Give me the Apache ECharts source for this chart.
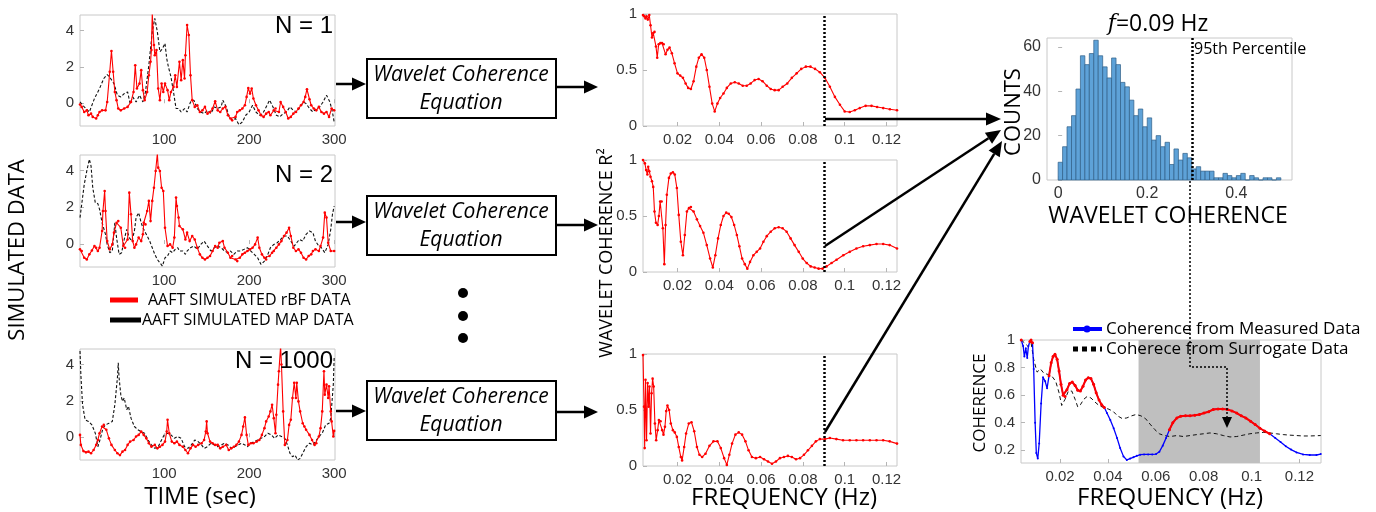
<!DOCTYPE html>
<html>
<head>
<meta charset="utf-8">
<script src="https://cdn.jsdelivr.net/npm/echarts@6/dist/echarts.min.js"></script>
<style>
  html, body { margin: 0; padding: 0; background: #fff; }
  #main { width: 1376px; height: 512px; }
</style>
</head>
<body>
<div id="main"></div>
<script>
// ---- simulated time series (time in s, value) ----
var rbf1 = [[1,-0.07],[3,-0.2],[6,-0.48],[9,-0.39],[11,-0.66],[14,-0.57],[16,-0.75],[20,-0.84],[22,-0.66],[24,-0.48],[27,-0.39],[31,-0.39],[33,0.07],[36,1.73],[38,2.87],[40,1.73],[42,0.62],[44,0.17],[46,-0.29],[49,-0.39],[53,-0.29],[57,-0.2],[61,0.07],[64,0.62],[66,2.09],[68,0.81],[71,1.08],[73,1.82],[75,0.72],[77,0.17],[80,0.62],[82,1.54],[84,2.28],[85,2.92],[86,4.94],[88,3.2],[89,2.64],[91,2.92],[93,0.81],[95,0.17],[97,1.08],[99,0.62],[101,1.08],[104,0.72],[106,0.17],[108,0.62],[111,0.9],[113,1.54],[115,0.9],[118,2.28],[120,1.27],[122,2.37],[124,1.36],[125,2.64],[127,4.3],[129,3.75],[131,1.54],[133,0.17],[136,-0.2],[139,-0.11],[142,-0.48],[145,-0.39],[148,-0.2],[151,-0.57],[154,-0.48],[157,-0.29],[160,0.11],[163,-0.39],[166,-0.48],[169,-0.29],[172,-0.2],[175,-0.66],[178,-0.84],[180,-0.94],[184,-0.75],[186,-0.48],[189,-0.39],[192,-0.29],[195,-0.11],[197,0.35],[199,0.84],[201,0.53],[203,0.81],[205,0.26],[208,-0.11],[211,-0.39],[214,-0.66],[217,-0.75],[220,-0.57],[223,-0.48],[225,-0.66],[229,-0.39],[231,-0.29],[235,-0.48],[237,0.07],[240,-0.2],[243,-0.48],[246,-0.84],[249,-0.75],[252,-0.57],[255,-0.48],[258,-0.29],[261,-0.11],[264,0.07],[266,0.35],[268,0.77],[271,0.22],[273,-0.11],[276,-0.29],[279,-0.39],[282,-0.2],[285,-0.48],[288,-0.57],[291,-0.48],[294,-0.75],[297,-0.29],[300,-0.39]];
var map1 = [[1,0.07],[6,-0.2],[12,-0.48],[18,0.26],[24,0.81],[29,1.36],[33,1.58],[37,1.36],[41,1.08],[45,0.44],[49,0.35],[53,0.53],[57,0.62],[60,-0.02],[63,0.35],[67,0.07],[71,0.44],[75,0.07],[78,0.62],[82,2.09],[86,3.93],[89,4.66],[92,3.93],[95,2.83],[98,3.0],[101,3.29],[103,2.46],[105,2.0],[108,1.45],[111,0.62],[114,-0.29],[117,-0.29],[120,-0.48],[124,-0.29],[127,-0.48],[131,0.07],[135,0.17],[139,-0.29],[143,-0.48],[147,-0.57],[151,-0.39],[155,-0.57],[159,-0.2],[163,-0.29],[167,-0.2],[169,0.17],[173,-0.2],[176,-0.66],[180,-0.94],[184,-0.84],[188,-1.18],[192,-1.03],[196,-0.66],[200,-0.48],[204,-0.11],[208,-0.48],[212,-0.66],[216,-0.57],[220,-0.2],[224,0.17],[228,-0.2],[232,-0.66],[236,-0.75],[240,-0.57],[244,-0.48],[248,-0.2],[252,-0.39],[256,-0.48],[260,-0.2],[264,0.07],[267,-0.02],[271,-0.29],[275,-0.48],[279,-0.29],[283,-0.2],[287,0.07],[291,0.44],[295,0.07],[298,-0.48],[300,-1.03]];
var rbf2 = [[1,-0.29],[3,-0.38],[6,-0.75],[9,-0.84],[12,-0.56],[15,-0.35],[18,-0.11],[20,-0.2],[22,-0.38],[24,-0.2],[27,0.71],[28,1.8],[30,2.89],[31,1.8],[33,0.16],[36,-0.29],[39,-0.02],[41,0.62],[44,1.16],[46,1.25],[49,0.89],[52,-0.11],[54,-0.2],[57,0.25],[59,2.8],[61,1.62],[63,0.16],[65,-0.2],[67,-0.02],[70,0.35],[73,0.16],[75,0.53],[76,1.16],[78,1.07],[80,1.8],[82,2.35],[84,1.25],[86,2.35],[88,3.07],[90,3.98],[92,4.93],[93,4.16],[95,3.98],[97,3.07],[99,2.89],[101,0.89],[104,-0.11],[107,-0.02],[110,-0.2],[112,0.35],[114,2.53],[115,2.07],[117,1.44],[118,0.98],[122,0.8],[125,0.25],[127,0.62],[130,0.16],[133,0.44],[136,0.25],[139,-0.2],[142,-0.56],[145,-0.75],[148,-0.84],[151,-0.75],[154,-0.65],[157,-0.38],[160,-0.11],[163,-0.2],[165,0.07],[169,0.16],[171,-0.2],[175,-0.47],[178,-0.75],[180,-0.65],[184,-0.84],[186,-0.93],[189,-0.75],[192,-0.56],[195,-0.47],[198,-0.38],[201,-0.29],[204,-0.2],[207,-0.02],[210,0.35],[212,-0.2],[215,-0.56],[218,-0.75],[220,-0.84],[224,-0.65],[227,-0.47],[229,-0.38],[232,-0.2],[235,-0.02],[238,0.16],[241,0.44],[244,0.62],[247,0.89],[249,0.44],[252,-0.2],[255,-0.38],[258,-0.29],[261,-0.47],[264,-0.75],[267,-0.84],[270,-0.65],[273,-0.56],[275,-0.38],[278,-0.29],[282,-0.38],[284,-0.11],[287,0.35],[289,1.71],[291,1.44],[293,0.07],[296,-0.38],[300,-0.38]];
var map2 = [[1,1.44],[3,2.16],[6,3.25],[9,3.98],[12,4.62],[14,4.25],[16,3.07],[19,2.25],[22,2.2],[24,1.89],[27,1.16],[31,0.53],[33,-0.02],[36,-0.47],[39,-0.38],[42,1.16],[44,0.35],[47,-0.56],[50,-0.47],[53,0.25],[56,0.8],[59,0.35],[62,0.16],[65,0.71],[67,1.44],[70,1.71],[73,1.16],[75,0.89],[78,0.62],[80,0.44],[83,0.16],[86,-0.2],[89,-0.56],[92,-0.84],[95,-1.02],[98,-1.2],[101,-0.75],[104,-0.65],[107,-0.38],[110,-0.47],[113,-0.29],[116,-0.2],[118,-0.38],[122,-0.38],[125,-0.56],[127,-0.38],[131,-0.2],[135,-0.11],[139,-0.29],[143,-0.02],[147,0.16],[151,-0.11],[155,-0.38],[159,-0.2],[163,-0.11],[167,-0.2],[171,-0.38],[175,-0.47],[178,-0.38],[182,-0.56],[186,-0.38],[190,-0.38],[194,-0.29],[198,-0.2],[202,-0.38],[206,-0.56],[210,-0.75],[214,-1.11],[218,-0.93],[222,-0.56],[225,-0.2],[229,-0.02],[233,0.07],[237,0.25],[241,0.44],[245,0.44],[249,0.16],[253,-0.11],[256,0.07],[259,0.25],[263,0.16],[267,0.53],[271,0.71],[275,0.62],[278,0.16],[282,-0.11],[285,-0.2],[289,-0.47],[293,-0.02],[296,0.8],[298,1.62],[300,2.07]];
var rbf3 = [[1,0.13],[2,-0.42],[5,-0.76],[8,-0.83],[11,-0.79],[14,-0.88],[17,-0.7],[20,-0.42],[22,-0.15],[24,0.22],[27,0.59],[29,0.68],[32,0.41],[35,-0.06],[38,-0.42],[42,-0.7],[45,-0.88],[48,-0.98],[51,-0.79],[54,-0.7],[57,-0.42],[60,-0.24],[64,-0.15],[67,0.04],[70,0.13],[73,0.31],[76,0.13],[79,-0.06],[82,-0.33],[85,-0.52],[89,-0.42],[92,-0.61],[95,-0.52],[98,-0.42],[101,-0.24],[103,0.31],[104,0.96],[106,0.22],[109,-0.24],[112,-0.33],[115,-0.24],[118,-0.42],[122,-0.52],[125,-0.7],[128,-0.88],[131,-0.61],[134,-0.42],[137,-0.52],[140,-0.42],[144,-0.33],[147,-0.15],[149,0.31],[150,0.87],[151,0.22],[154,-0.24],[157,-0.33],[160,-0.42],[163,-0.42],[166,-0.61],[169,-0.52],[173,-0.42],[176,-0.7],[179,-0.61],[182,-0.52],[185,-0.42],[188,-0.24],[191,0.13],[193,0.59],[195,1.09],[197,0.13],[199,-0.42],[202,-0.33],[205,-0.33],[209,-0.24],[212,-0.15],[215,0.13],[218,0.5],[220,0.87],[223,1.14],[225,1.42],[227,1.79],[229,1.05],[231,0.22],[232,1.24],[234,2.89],[235,3.63],[237,5.0],[238,4.0],[240,1.42],[242,-0.42],[245,-0.15],[247,0.68],[249,0.96],[251,2.16],[253,2.99],[255,2.16],[256,2.99],[258,1.97],[260,1.42],[263,0.77],[265,0.59],[267,0.41],[271,0.13],[274,-0.15],[277,-0.42],[279,-0.33],[282,0.04],[284,0.5],[286,1.42],[288,3.63],[289,2.34],[291,2.89],[293,2.16],[294,2.8],[296,1.42],[297,0.87],[299,0.04],[300,0.35]];
var map3 = [[1,4.74],[2,3.45],[4,1.79],[7,0.96],[11,0.87],[15,0.68],[19,0.22],[22,-0.52],[25,-0.06],[28,0.5],[31,0.68],[35,0.77],[39,0.87],[42,1.79],[45,3.26],[46,4.09],[47,3.26],[49,2.34],[51,1.97],[53,2.16],[56,1.51],[58,1.7],[61,1.05],[65,0.59],[69,0.41],[73,0.31],[77,0.22],[81,-0.15],[85,-0.42],[89,-0.61],[93,-0.52],[96,-0.24],[100,0.13],[104,0.22],[108,0.13],[112,-0.06],[116,0.04],[120,-0.06],[124,-0.52],[128,-0.61],[132,-0.42],[136,-0.15],[140,-0.24],[144,-0.42],[147,-0.61],[151,-0.52],[155,-0.33],[159,-0.42],[163,-0.52],[167,-0.42],[171,-0.33],[175,-0.42],[179,-0.61],[183,-0.52],[187,-0.42],[191,-0.33],[195,-0.42],[198,-0.52],[202,-0.33],[206,-0.24],[210,-0.15],[214,-0.06],[218,0.04],[222,0.22],[226,0.13],[230,-0.06],[234,0.13],[238,0.04],[242,-0.06],[245,-0.42],[248,-0.88],[251,-1.07],[254,-0.98],[257,-1.25],[260,-1.16],[264,-0.79],[267,-0.52],[271,-0.33],[275,-0.42],[278,-0.24],[282,0.04],[286,0.22],[290,0.68],[294,0.77],[296,1.05],[299,2.89],[300,4.37]];

// ---- wavelet coherence vs frequency (Hz, R^2) ----
var cohA = [[0.0035,0.99],[0.0041,0.98],[0.0047,0.96],[0.0052,0.98],[0.0058,0.95],[0.0065,0.99],[0.0071,0.9],[0.0078,0.79],[0.0084,0.83],[0.009,0.84],[0.0097,0.71],[0.0103,0.61],[0.011,0.73],[0.0118,0.74],[0.0126,0.74],[0.0134,0.73],[0.0143,0.64],[0.0152,0.68],[0.0162,0.7],[0.0173,0.65],[0.0186,0.56],[0.02,0.47],[0.0213,0.45],[0.0226,0.43],[0.0239,0.38],[0.0251,0.34],[0.0264,0.33],[0.0277,0.4],[0.029,0.53],[0.0302,0.61],[0.0315,0.64],[0.0328,0.61],[0.034,0.5],[0.0353,0.35],[0.0366,0.2],[0.0378,0.13],[0.0391,0.2],[0.0404,0.25],[0.042,0.29],[0.0436,0.34],[0.0455,0.38],[0.0474,0.39],[0.0493,0.38],[0.0512,0.36],[0.0531,0.36],[0.055,0.38],[0.0569,0.41],[0.0588,0.42],[0.0607,0.4],[0.0627,0.36],[0.0646,0.33],[0.0665,0.32],[0.0684,0.32],[0.0703,0.35],[0.0725,0.38],[0.0747,0.43],[0.077,0.47],[0.0792,0.51],[0.0814,0.53],[0.0836,0.53],[0.0858,0.51],[0.0881,0.48],[0.0905,0.43],[0.0929,0.35],[0.0953,0.26],[0.0977,0.19],[0.1,0.13],[0.1024,0.125],[0.1048,0.14],[0.1072,0.16],[0.11,0.18],[0.1128,0.18],[0.1155,0.17],[0.1184,0.16],[0.1216,0.15],[0.125,0.14]];
var cohB = [[0.0035,1.0],[0.0044,0.97],[0.005,0.91],[0.0056,0.87],[0.006,0.94],[0.0065,0.9],[0.0071,0.85],[0.0078,0.81],[0.0084,0.76],[0.009,0.54],[0.0097,0.44],[0.0105,0.42],[0.0111,0.5],[0.0117,0.63],[0.0124,0.63],[0.013,0.39],[0.0137,0.07],[0.0143,0.42],[0.0149,0.69],[0.0159,0.84],[0.0168,0.88],[0.0178,0.89],[0.0187,0.87],[0.0197,0.75],[0.0206,0.51],[0.0216,0.27],[0.0226,0.15],[0.0235,0.33],[0.0245,0.54],[0.0255,0.57],[0.0264,0.58],[0.0277,0.54],[0.0293,0.47],[0.0308,0.41],[0.0324,0.35],[0.034,0.24],[0.0356,0.12],[0.0369,0.04],[0.0381,0.15],[0.0394,0.3],[0.0407,0.42],[0.042,0.5],[0.0433,0.53],[0.0445,0.52],[0.0458,0.49],[0.0471,0.42],[0.0484,0.33],[0.0496,0.23],[0.0509,0.12],[0.0522,0.07],[0.0534,0.03],[0.0547,0.09],[0.0563,0.15],[0.0579,0.18],[0.0595,0.21],[0.0611,0.27],[0.0627,0.32],[0.0646,0.36],[0.0665,0.39],[0.0684,0.4],[0.0703,0.39],[0.0722,0.36],[0.0741,0.3],[0.076,0.24],[0.078,0.18],[0.0799,0.12],[0.0818,0.08],[0.0837,0.05],[0.0856,0.04],[0.0875,0.03],[0.0894,0.03],[0.0913,0.05],[0.0937,0.08],[0.0961,0.11],[0.0993,0.15],[0.1024,0.18],[0.1056,0.21],[0.1088,0.23],[0.112,0.24],[0.1152,0.25],[0.1184,0.25],[0.1215,0.24],[0.125,0.21]];
var cohC = [[0.0035,0.99],[0.004,0.53],[0.0043,0.16],[0.0047,0.77],[0.0052,0.23],[0.0057,0.74],[0.0062,0.53],[0.0066,0.71],[0.0071,0.29],[0.0076,0.65],[0.0081,0.78],[0.0086,0.71],[0.0092,0.38],[0.0098,0.23],[0.0105,0.32],[0.0111,0.41],[0.0119,0.4],[0.0127,0.32],[0.0133,0.28],[0.014,0.35],[0.0146,0.49],[0.0152,0.54],[0.016,0.5],[0.0168,0.38],[0.0178,0.32],[0.0187,0.3],[0.0197,0.26],[0.0206,0.17],[0.0216,0.08],[0.0222,0.05],[0.0232,0.17],[0.0241,0.29],[0.0254,0.38],[0.0267,0.39],[0.028,0.31],[0.0293,0.17],[0.0305,0.1],[0.0318,0.08],[0.0334,0.11],[0.0353,0.18],[0.0372,0.22],[0.0391,0.22],[0.0407,0.16],[0.0423,0.07],[0.0436,0.01],[0.0448,0.1],[0.0461,0.2],[0.0477,0.28],[0.0493,0.3],[0.0509,0.28],[0.0525,0.22],[0.054,0.14],[0.0556,0.08],[0.0575,0.07],[0.0595,0.08],[0.0614,0.06],[0.0633,0.04],[0.0652,0.02],[0.0671,0.04],[0.069,0.07],[0.0709,0.08],[0.0728,0.09],[0.0747,0.08],[0.0767,0.06],[0.0786,0.07],[0.0805,0.1],[0.0824,0.14],[0.0843,0.18],[0.0862,0.22],[0.0881,0.24],[0.0905,0.24],[0.0929,0.25],[0.096,0.24],[0.0992,0.23],[0.1024,0.23],[0.1056,0.23],[0.1088,0.23],[0.112,0.23],[0.1152,0.23],[0.1184,0.23],[0.1215,0.22],[0.125,0.2]];

// ---- histogram of surrogate coherence at f = 0.09 Hz ----
var binWidth = 0.01;
var binCounts = [8,15,24,29,41,56,52,57,63,56,51,46,55,52,44,42,36,29,32,24,28,18,20,15,17,7,14,9,12,10,5,6,4,4,4,1,1,3,2,1,2,3,0,2,1,0,1,1,0,1];
var pct95 = 0.297;

// ---- measured vs surrogate coherence ----
var measured = [[0.0038,1.0],[0.0046,0.956],[0.0051,0.88],[0.0057,0.94],[0.0063,0.87],[0.0068,0.956],[0.0074,0.99],[0.0079,1.0],[0.0085,0.98],[0.009,0.79],[0.0096,0.4],[0.0101,0.18],[0.0107,0.14],[0.0113,0.25],[0.0121,0.54],[0.0129,0.73],[0.0138,0.7],[0.0146,0.65],[0.0154,0.74],[0.0163,0.835],[0.0171,0.88],[0.0179,0.896],[0.0188,0.86],[0.0196,0.775],[0.0204,0.68],[0.0213,0.6],[0.0221,0.59],[0.0229,0.64],[0.024,0.685],[0.0251,0.695],[0.0263,0.67],[0.0274,0.636],[0.0285,0.63],[0.0296,0.665],[0.0307,0.71],[0.0318,0.726],[0.0329,0.72],[0.034,0.68],[0.0351,0.617],[0.0363,0.564],[0.0374,0.53],[0.0385,0.51],[0.0396,0.47],[0.041,0.42],[0.0424,0.36],[0.0438,0.29],[0.0451,0.217],[0.0465,0.156],[0.0479,0.13],[0.0493,0.14],[0.0507,0.15],[0.0521,0.16],[0.0535,0.168],[0.0551,0.17],[0.0568,0.17],[0.0585,0.17],[0.0601,0.173],[0.0615,0.19],[0.0629,0.234],[0.0643,0.29],[0.0657,0.35],[0.0671,0.4],[0.0688,0.435],[0.0704,0.447],[0.0724,0.45],[0.0743,0.45],[0.0763,0.455],[0.0782,0.46],[0.0801,0.47],[0.0821,0.48],[0.084,0.496],[0.086,0.5],[0.0879,0.5],[0.0899,0.496],[0.0918,0.486],[0.0938,0.47],[0.0957,0.45],[0.0976,0.435],[0.0996,0.41],[0.1015,0.387],[0.1035,0.36],[0.1054,0.34],[0.1076,0.32],[0.1099,0.29],[0.1121,0.26],[0.1143,0.23],[0.1165,0.205],[0.1188,0.185],[0.1215,0.17],[0.1243,0.166],[0.1271,0.166],[0.1289,0.173]];
var surrogate = [[0.0038,1.0],[0.0051,0.98],[0.0065,0.956],[0.0079,0.98],[0.009,0.86],[0.0104,0.767],[0.0118,0.79],[0.0132,0.76],[0.0149,0.75],[0.0165,0.74],[0.0182,0.7],[0.0196,0.617],[0.0207,0.525],[0.0221,0.57],[0.0235,0.63],[0.0249,0.63],[0.0263,0.57],[0.0274,0.515],[0.0285,0.53],[0.0299,0.57],[0.0313,0.59],[0.0329,0.58],[0.0346,0.55],[0.0363,0.525],[0.0382,0.51],[0.0401,0.5],[0.0421,0.484],[0.044,0.45],[0.046,0.43],[0.0479,0.435],[0.0499,0.45],[0.0518,0.46],[0.0538,0.45],[0.0557,0.43],[0.0576,0.39],[0.0596,0.35],[0.0615,0.32],[0.0635,0.307],[0.066,0.3],[0.0688,0.307],[0.0715,0.3],[0.0743,0.307],[0.0771,0.314],[0.0799,0.32],[0.0826,0.326],[0.0854,0.32],[0.0882,0.307],[0.091,0.297],[0.0938,0.3],[0.0965,0.31],[0.0993,0.32],[0.1021,0.326],[0.1049,0.33],[0.1076,0.326],[0.1104,0.32],[0.1132,0.314],[0.116,0.31],[0.1188,0.307],[0.1215,0.304],[0.1243,0.304],[0.1289,0.307]];
var sigRanges = [[0.0035,0.004],[0.0072,0.0087],[0.015,0.0386],[0.0655,0.1078]];
var bandRange = [0.0528, 0.1035];

var timeTicks = [100, 200, 300];
var simTicks = [0, 2, 4];
var freqTicks = [0.02, 0.04, 0.06, 0.08, 0.1, 0.12];
var cohTicks = [0, 0.5, 1];
var histXTicks = [0, 0.2, 0.4];
var histYTicks = [0, 20, 40, 60];
var measTicks = [0.2, 0.4, 0.6, 0.8, 1];

var RED = '#ff0000', BLUE = '#0000ff';
var TXT = '"Open Sans", sans-serif';

function axis(gi, min, max, ticks, fs) {
  return {
    type: 'value', gridIndex: gi, min: min, max: max,
    axisLine: { show: false },
    splitLine: { show: false },
    axisTick: { inside: true, length: 4, lineStyle: { color: '#b5b5b5' }, customValues: ticks },
    axisLabel: { customValues: ticks, color: '#333', fontSize: fs || 15, fontFamily: 'Liberation Sans', margin: 6 }
  };
}

function box(l, t, w, h) {
  return { left: l, top: t, width: w, height: h, show: true, borderColor: '#c8c8c8', borderWidth: 1, backgroundColor: 'transparent' };
}

function redLine(gi, data) {
  return { type: 'line', xAxisIndex: gi, yAxisIndex: gi, data: data, showSymbol: true, showAllSymbol: true,
    symbol: 'circle', symbolSize: 2.6, itemStyle: { color: RED }, lineStyle: { color: RED, width: 1.1 }, z: 3, silent: true };
}
function blackDash(gi, data) {
  return { type: 'line', xAxisIndex: gi, yAxisIndex: gi, data: data, showSymbol: false,
    lineStyle: { color: '#111', width: 1.1, type: [3, 2] }, z: 2, silent: true };
}
function dottedMark(gi, xv) {
  return { type: 'line', xAxisIndex: gi, yAxisIndex: gi, data: [], z: 4,
    markLine: { symbol: 'none', silent: true, label: { show: false },
      lineStyle: { color: '#000', width: 2.5, type: [2, 2] }, data: [{ xAxis: xv }] } };
}

function inRanges(x) {
  for (var i = 0; i < sigRanges.length; i++) if (x >= sigRanges[i][0] && x <= sigRanges[i][1]) return true;
  return false;
}
var sigData = measured.map(function (p) { return inRanges(p[0]) ? p : [p[0], null]; });
var histData = binCounts.map(function (c, i) { return [i * binWidth, (i + 1) * binWidth, c]; });

function arrow(x1, y1, x2, y2, hl, hw, lw) {
  hl = hl || 14; hw = hw || 12; lw = lw || 2.5;
  var a = Math.atan2(y2 - y1, x2 - x1);
  var bx = x2 - hl * Math.cos(a), by = y2 - hl * Math.sin(a);
  var px = -Math.sin(a) * hw / 2, py = Math.cos(a) * hw / 2;
  return [
    { type: 'line', shape: { x1: x1, y1: y1, x2: bx, y2: by }, style: { stroke: '#000', lineWidth: lw } },
    { type: 'polygon', shape: { points: [[x2, y2], [bx + px, by + py], [bx - px, by - py]] }, style: { fill: '#000' } }
  ];
}
function txt(x, y, s, font, opt) {
  var o = { type: 'text', x: x, y: y, style: { text: s, font: font, fill: '#000', textAlign: 'center', textVerticalAlign: 'middle' } };
  if (opt) Object.keys(opt).forEach(function (k) { if (k === 'rotation') o.rotation = opt[k]; else o.style[k] = opt[k]; });
  return o;
}

var graphics = [];
// equation boxes
[59, 196, 381].forEach(function (t) {
  graphics.push({ type: 'rect', shape: { x: 367, y: t, width: 189, height: 59 }, style: { fill: 'none', stroke: '#000', lineWidth: 2 } });
  graphics.push(txt(461, t + 16, 'Wavelet Coherence', 'italic 21px ' + TXT));
  graphics.push(txt(461, t + 44, 'Equation', 'italic 21px ' + TXT));
});
// arrows left -> box -> coherence
[[84, 87], [222, 225], [411, 412]].forEach(function (r) {
  graphics = graphics.concat(arrow(336, r[0], 366, r[0], 14, 13));
  graphics = graphics.concat(arrow(556, r[1], 598, r[1], 14, 13));
});
// arrows coherence -> histogram
graphics = graphics.concat(arrow(825, 119, 1001, 119, 15, 13));
graphics = graphics.concat(arrow(825, 246, 1001, 130, 15, 13));
graphics = graphics.concat(arrow(825, 432, 1002, 141, 15, 13));
// ellipsis dots
[293, 316, 338].forEach(function (y) {
  graphics.push({ type: 'circle', shape: { cx: 463, cy: y, r: 5 }, style: { fill: '#000' } });
});
// left legend
graphics.push({ type: 'line', shape: { x1: 110, y1: 300, x2: 138, y2: 300 }, style: { stroke: RED, lineWidth: 5 } });
graphics.push(txt(148, 300, 'AAFT SIMULATED rBF DATA', '16px ' + TXT, { textAlign: 'left' }));
graphics.push({ type: 'line', shape: { x1: 110, y1: 320, x2: 141, y2: 320 }, style: { stroke: '#000', lineWidth: 5 } });
graphics.push(txt(142, 320, 'AAFT SIMULATED MAP DATA', '16px ' + TXT, { textAlign: 'left' }));
// N labels
graphics.push(txt(333, 26, 'N = 1', '24px "Liberation Sans"', { textAlign: 'right' }));
graphics.push(txt(333, 175, 'N = 2', '24px "Liberation Sans"', { textAlign: 'right' }));
graphics.push(txt(333, 361, 'N = 1000', '24px "Liberation Sans"', { textAlign: 'right' }));
// axis titles
graphics.push(txt(18, 250, 'SIMULATED DATA', '22px ' + TXT, { rotation: Math.PI / 2 }));
graphics.push(txt(200, 497, 'TIME (sec)', '24px ' + TXT));
graphics.push(txt(607, 253, 'WAVELET COHERENCE R²', '18px ' + TXT, { rotation: Math.PI / 2 }));
graphics.push(txt(784, 498, 'FREQUENCY (Hz)', '24px ' + TXT));
// histogram texts
graphics.push({ type: 'text', x: 1158, y: 24, style: { text: '{i|f}=0.09 Hz', font: '23px ' + TXT, fill: '#000', textAlign: 'center', textVerticalAlign: 'middle',
  rich: { i: { fontStyle: 'italic', fontFamily: '"DejaVu Serif"', fontSize: 22 } } } });
graphics.push(txt(1194, 49, '95th Percentile', '16px ' + TXT, { textAlign: 'left' }));
graphics.push(txt(1168, 216, 'WAVELET COHERENCE', '23px ' + TXT));
graphics.push(txt(1014, 112, 'COUNTS', '22px ' + TXT, { rotation: Math.PI / 2 }));
// dotted link from percentile to measured panel
graphics.push({ type: 'polyline', shape: { points: [[1190, 181], [1190, 367], [1227, 367], [1227, 419]] },
  style: { stroke: '#000', lineWidth: 1.5, lineDash: [2, 2], fill: null } });
graphics.push({ type: 'polygon', shape: { points: [[1222, 417], [1232, 417], [1227, 428]] }, style: { fill: '#000' } });
// bottom-right legend & titles
graphics.push({ type: 'line', shape: { x1: 1073, y1: 329, x2: 1102, y2: 329 }, style: { stroke: BLUE, lineWidth: 4 } });
graphics.push({ type: 'circle', shape: { cx: 1087, cy: 329, r: 3.5 }, style: { fill: BLUE } });
graphics.push(txt(1106, 329, 'Coherence from Measured Data', '17px ' + TXT, { textAlign: 'left' }));
graphics.push({ type: 'line', shape: { x1: 1073, y1: 349, x2: 1102, y2: 349 }, style: { stroke: '#000', lineWidth: 5, lineDash: [5, 4] } });
graphics.push(txt(1106, 349, 'Coherece from Surrogate Data', '17px ' + TXT, { textAlign: 'left' }));
graphics.push(txt(980, 403, 'COHERENCE', '17px ' + TXT, { rotation: Math.PI / 2 }));
graphics.push(txt(1170, 498, 'FREQUENCY (Hz)', '24px ' + TXT));
graphics.forEach(function (g) { g.z = 100; });

var chart = echarts.init(document.getElementById('main'), null, { renderer: 'canvas' });

var option = {
  animation: false,
  backgroundColor: '#fff',
  grid: [
    box(80, 15, 255, 111), box(80, 155, 255, 112), box(80, 349, 255, 111),
    box(643, 14, 254, 112), box(643, 160, 254, 112), box(643, 354, 254, 112),
    box(1047, 38, 245, 142),
    box(1021, 340, 300, 123)
  ],
  xAxis: [
    axis(0, 1, 301, timeTicks), axis(1, 1, 301, timeTicks), axis(2, 1, 301, timeTicks),
    axis(3, 0.0035, 0.125, freqTicks), axis(4, 0.0035, 0.125, freqTicks), axis(5, 0.0035, 0.125, freqTicks),
    axis(6, -0.025, 0.525, histXTicks, 16),
    axis(7, 0.0037, 0.129, freqTicks)
  ],
  yAxis: [
    axis(0, -1.25, 4.85, simTicks), axis(1, -1.25, 4.85, simTicks), axis(2, -1.25, 4.85, simTicks),
    axis(3, 0, 1, cohTicks), axis(4, 0, 1, cohTicks), axis(5, 0, 1, cohTicks),
    axis(6, 0, 64, histYTicks, 16),
    axis(7, 0.108, 1, measTicks)
  ],
  series: [
    blackDash(0, map1), redLine(0, rbf1),
    blackDash(1, map2), redLine(1, rbf2),
    blackDash(2, map3), redLine(2, rbf3),
    redLine(3, cohA), dottedMark(3, 0.09),
    redLine(4, cohB), dottedMark(4, 0.09),
    redLine(5, cohC), dottedMark(5, 0.09),
    {
      type: 'custom', xAxisIndex: 6, yAxisIndex: 6, data: histData, silent: true,
      encode: { x: [0, 1], y: 2 },
      renderItem: function (params, api) {
        var p0 = api.coord([api.value(0), 0]);
        var p1 = api.coord([api.value(1), api.value(2)]);
        return { type: 'rect', shape: { x: p0[0], y: p1[1], width: p1[0] - p0[0], height: p0[1] - p1[1] },
          style: { fill: '#5ea2d8', stroke: '#2f5f86', lineWidth: 0.7 } };
      }
    },
    dottedMark(6, pct95),
    {
      type: 'line', xAxisIndex: 7, yAxisIndex: 7, data: [], z: 1,
      markArea: { silent: true, itemStyle: { color: '#bfbfbf' }, data: [[{ xAxis: bandRange[0] }, { xAxis: bandRange[1] }]] }
    },
    { type: 'line', xAxisIndex: 7, yAxisIndex: 7, data: surrogate, showSymbol: false, silent: true, z: 3,
      lineStyle: { color: '#111', width: 1, type: [4, 3] } },
    { type: 'line', xAxisIndex: 7, yAxisIndex: 7, data: measured, showSymbol: true, showAllSymbol: true, silent: true,
      symbol: 'circle', symbolSize: 2, itemStyle: { color: BLUE }, lineStyle: { color: BLUE, width: 1.3 }, z: 4 },
    { type: 'line', xAxisIndex: 7, yAxisIndex: 7, data: sigData, connectNulls: false, showSymbol: true, showAllSymbol: true, silent: true,
      symbol: 'circle', symbolSize: 3, itemStyle: { color: RED }, lineStyle: { color: RED, width: 2 }, z: 5 }
  ],
  graphic: { elements: graphics }
};

chart.setOption(option);
</script>
</body>
</html>
